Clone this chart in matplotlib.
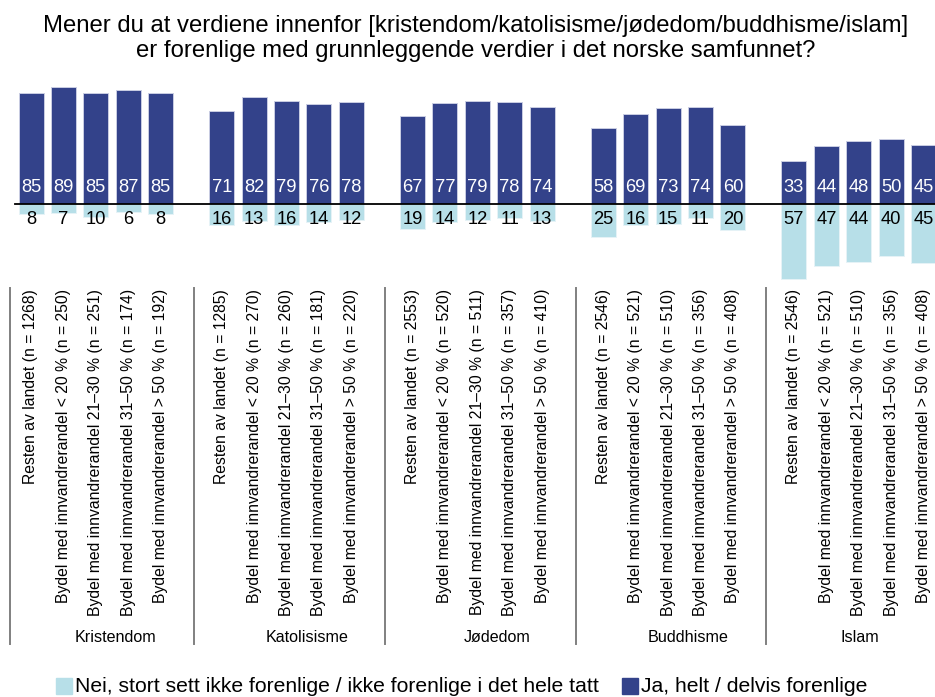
import matplotlib
matplotlib.use("Agg")
import matplotlib.pyplot as plt
import numpy as np

plt.rcParams['font.family'] = ['Liberation Sans', 'DejaVu Sans']

title = ("Mener du at verdiene innenfor [kristendom/katolisisme/jødedom/buddhisme/islam]\n"
         "er forenlige med grunnleggende verdier i det norske samfunnet?")

groups = ["Kristendom", "Katolisisme", "Jødedom", "Buddhisme", "Islam"]
sub_labels = ["Resten av landet",
              "Bydel med innvandrerandel < 20 %",
              "Bydel med innvandrerandel 21–30 %",
              "Bydel med innvandrerandel 31–50 %",
              "Bydel med innvandrerandel > 50 %"]
n_values = [[1268, 250, 251, 174, 192],
            [1285, 270, 260, 181, 220],
            [2553, 520, 511, 357, 410],
            [2546, 521, 510, 356, 408],
            [2546, 521, 510, 356, 408]]
yes_values = [[85, 89, 85, 87, 85],
              [71, 82, 79, 76, 78],
              [67, 77, 79, 78, 74],
              [58, 69, 73, 74, 60],
              [33, 44, 48, 50, 45]]
no_values = [[8, 7, 10, 6, 8],
             [16, 13, 16, 14, 12],
             [19, 14, 12, 11, 13],
             [25, 16, 15, 11, 20],
             [57, 47, 44, 40, 45]]
legend_no = "Nei, stort sett ikke forenlige / ikke forenlige i det hele tatt"
legend_yes = "Ja, helt / delvis forenlige"

dark = "#33428A"
light = "#B7DFE8"

W, H = 935, 697
fig = plt.figure(figsize=(W / 100, H / 100), dpi=100)
ax = fig.add_axes([0, 0, 1, 1])
ax.axis("off")

# pixel layout helpers
slot_px = 32.4
x0_px = 31.0
group_step = 5.887
base_py = 204.0
unit_px = 1.31

ax.set_xlim(-x0_px / slot_px, (W - x0_px) / slot_px)
ax.set_ylim((base_py - H) / unit_px, base_py / unit_px)


def fy(py):
    return 1 - py / H


def dy(py):
    return (base_py - py) / unit_px


bar_w = 25 / slot_px
for g in range(len(groups)):
    xs = g * group_step + np.arange(5)
    ax.bar(xs, yes_values[g], width=bar_w, color=dark, edgecolor="#c9cde2", linewidth=0.7, zorder=2)
    ax.bar(xs, [-v for v in no_values[g]], width=bar_w, color=light, edgecolor="#e6f3f7", linewidth=0.7, zorder=2)
    for j, x in enumerate(xs):
        ax.text(x, dy(187), f"{yes_values[g][j]}", color="white", fontsize=13.2,
                ha="center", va="center", zorder=4)
        ax.text(x, dy(219), f"{no_values[g][j]}", color="black", fontsize=13.2,
                ha="center", va="center", zorder=4)
        ax.text(x, dy(289), f"{sub_labels[j]} (n = {n_values[g][j]})", rotation=90,
                fontsize=11.3, ha="center", va="top", color="black")

# baseline
ax.plot([(15 - x0_px) / slot_px, (W - x0_px) / slot_px], [0, 0], color="black", lw=1.3, zorder=3)

# group separators
sep_x = [-21 / slot_px] + [g * group_step - 0.85 for g in range(1, 5)]
for sx in sep_x:
    ax.plot([sx, sx], [dy(288), dy(644)], color="#808080", lw=1.4)

# group labels
label_off = [2.62, 2.62, 2.62, 2.62, 2.04]
for g, name in enumerate(groups):
    ax.text(g * group_step + label_off[g], dy(637), name, fontsize=11.6,
            ha="center", va="center")

# title
fig.text(476 / W, fy(38.5), title, ha="center", va="center", fontsize=17.2, linespacing=1.12)

# legend
fig.patches.append(plt.Rectangle((56 / W, fy(694)), 16 / W, 16 / H, transform=fig.transFigure,
                                 color=light, figure=fig))
fig.text(75 / W, fy(686), legend_no, ha="left", va="center", fontsize=15.2)
fig.patches.append(plt.Rectangle((622 / W, fy(694)), 16 / W, 16 / H, transform=fig.transFigure,
                                 color=dark, figure=fig))
fig.text(641 / W, fy(686), legend_yes, ha="left", va="center", fontsize=15.2)

fig.savefig("out.png", dpi=100)
